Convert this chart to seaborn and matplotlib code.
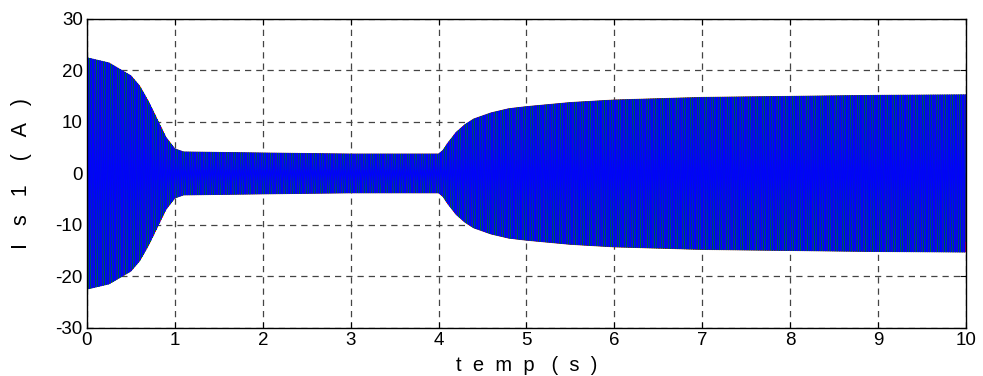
import numpy as np
import pandas as pd
import matplotlib
matplotlib.use("Agg")
import matplotlib.pyplot as plt
import seaborn as sns

# envelope of the stator current (time in s, peak in A)
env_t = [0.0, 0.25, 0.4, 0.5, 0.6, 0.7, 0.8, 0.9, 1.0, 1.1, 2.0, 3.0, 4.0,
         4.05, 4.1, 4.2, 4.3, 4.4, 4.6, 4.8, 5.0, 5.5, 6.0, 7.0, 8.0, 9.0, 10.0]
env_a = [22.5, 21.5, 20.0, 19.0, 17.0, 14.0, 10.5, 7.0, 4.8, 4.2, 4.0, 3.8, 3.8,
         4.5, 5.8, 8.0, 9.5, 10.6, 11.8, 12.6, 13.0, 13.8, 14.3, 14.8, 15.0, 15.2, 15.3]
freq_hz = 50.0
phase_names = ["Is1a", "Is1b", "Is1c"]
phase_shift_deg = [0, -120, 120]
phase_colors = ["#ff0000", "#008000", "#0000ff"]

x_ticks = [0, 1, 2, 3, 4, 5, 6, 7, 8, 9, 10]
y_ticks = [-30, -20, -10, 0, 10, 20, 30]

t = np.linspace(0, 10, 23000)
amp = np.interp(t, env_t, env_a)
frames = []
for name, sh in zip(phase_names, phase_shift_deg):
    frames.append(pd.DataFrame({
        "t": t,
        "i": amp * np.sin(2 * np.pi * freq_hz * t + np.deg2rad(sh)),
        "phase": name,
    }))
df = pd.concat(frames, ignore_index=True)

sns.set_style("white")
plt.rcParams["font.family"] = ["Liberation Sans", "DejaVu Sans"]
plt.rcParams["axes.unicode_minus"] = False
plt.rcParams["text.color"] = "black"
plt.rcParams["axes.labelcolor"] = "black"
plt.rcParams["xtick.color"] = "black"
plt.rcParams["ytick.color"] = "black"

fig = plt.figure(figsize=(9.83, 3.76), dpi=100)
ax = fig.add_axes([0.0885, 0.128, 0.894, 0.8215])

sns.lineplot(data=df, x="t", y="i", hue="phase", palette=phase_colors,
             estimator=None, sort=False, linewidth=0.6, legend=False, ax=ax)

ax.set_xlim(0, 10)
ax.set_ylim(-30, 30)
ax.set_xticks(x_ticks)
ax.set_yticks(y_ticks)
ax.tick_params(labelsize=13.5, direction="in", length=4, color="black",
               top=True, right=True, bottom=True, left=True, pad=3)
ax.grid(True, color="#444444", linestyle=(0, (5, 4)), linewidth=0.9)
for s in ax.spines.values():
    s.set_color("black")
    s.set_linewidth(1.0)

ax.set_xlabel("t  e  m  p   (  s  )", fontsize=14.5, labelpad=5)
ax.set_ylabel("I   s   1    (   A   )", fontsize=15.5, labelpad=17)

fig.savefig("out.png", dpi=100)
